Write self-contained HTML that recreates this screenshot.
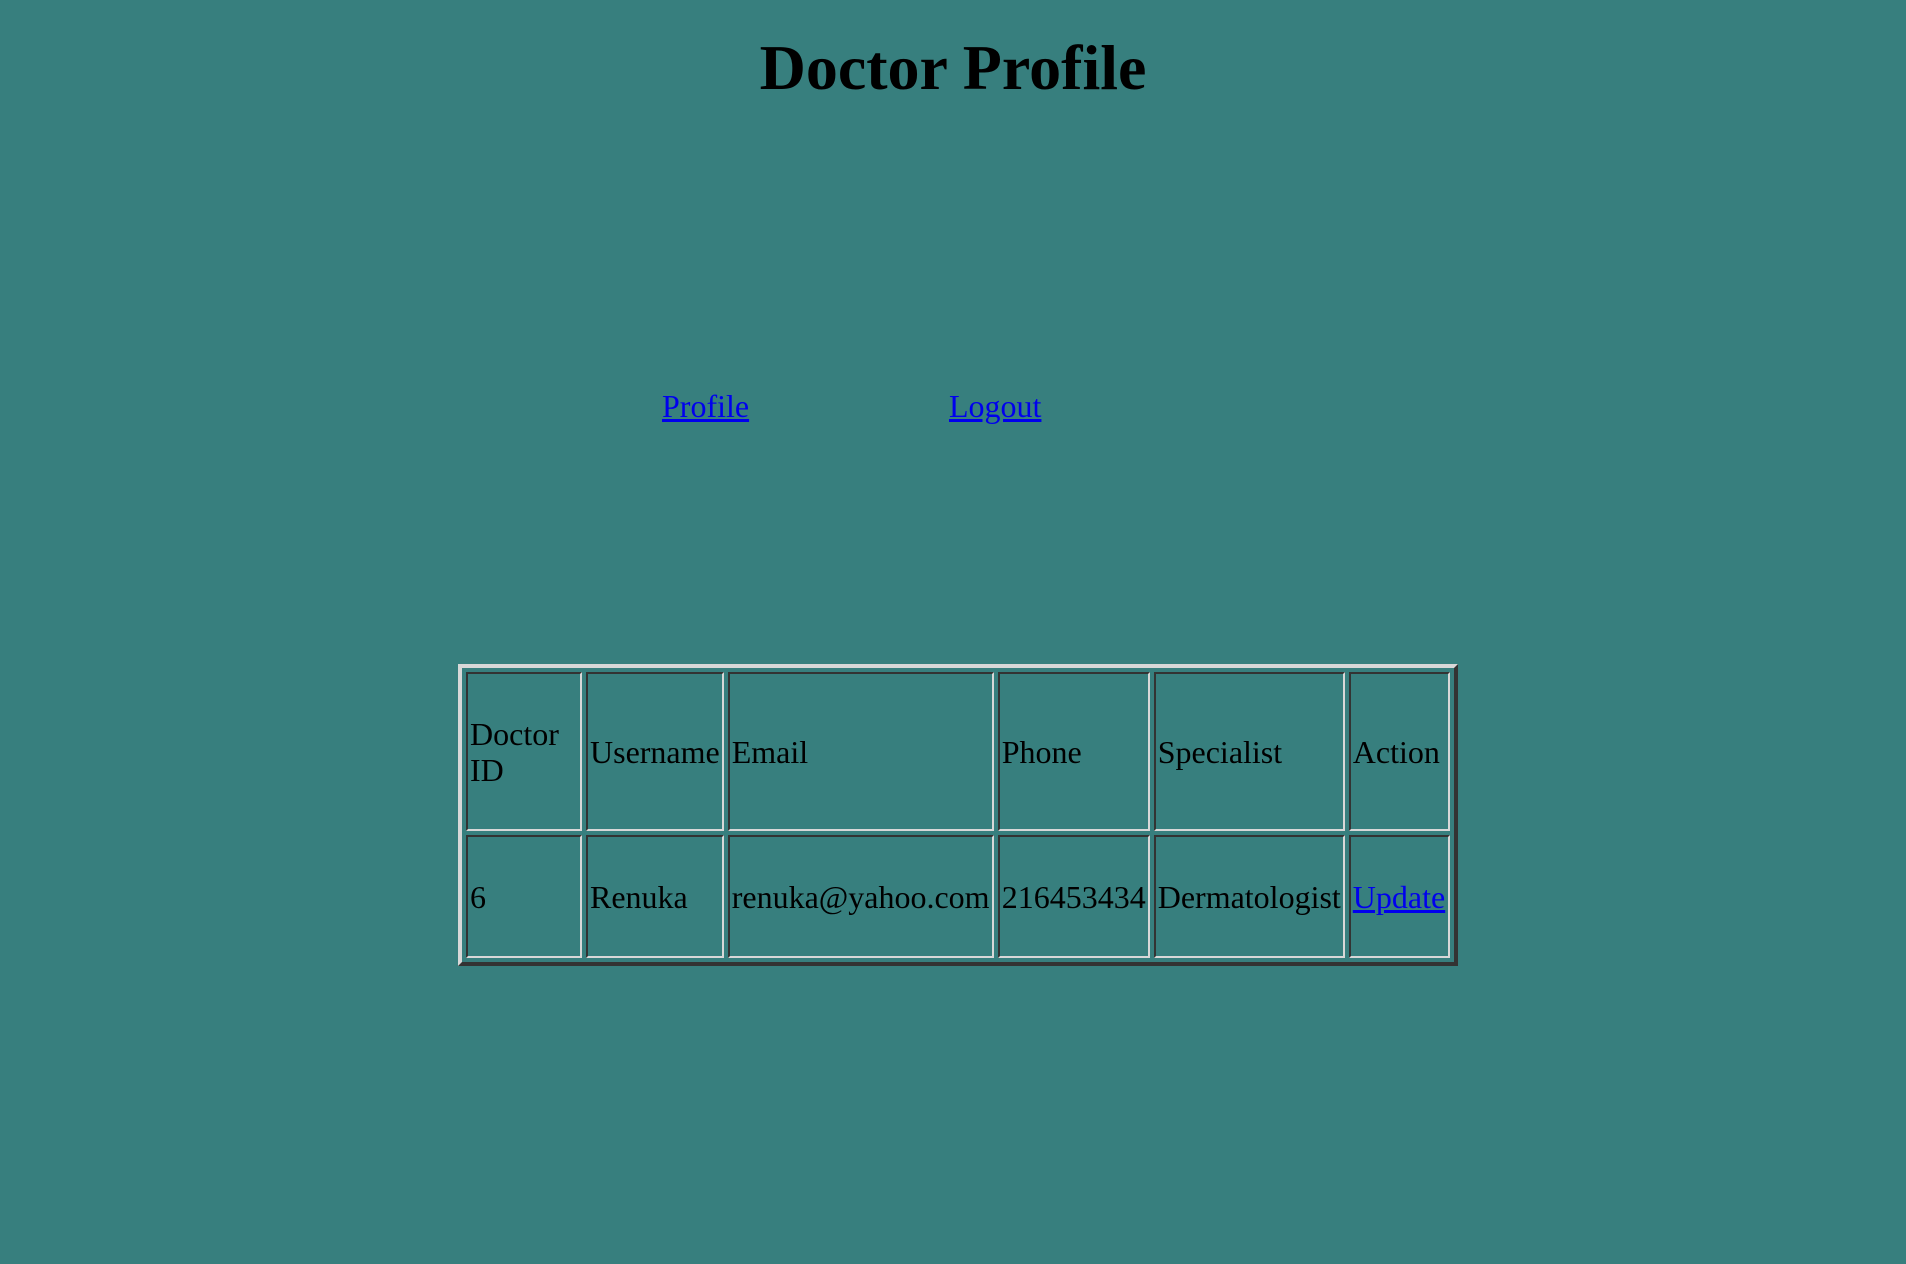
<!DOCTYPE html>
<html><head><meta charset="utf-8"><style>
html,body{margin:0;padding:0;}
body{width:1906px;height:1264px;background:#377f7e;position:relative;font-family:"Liberation Serif",serif;color:#000;overflow:hidden;}
h1{position:absolute;left:0;width:1906px;top:32px;margin:0;text-align:center;font-size:64px;line-height:72px;font-weight:bold;}
a{color:#0000ee;text-decoration:underline;font-size:32px;}
.lnk{position:absolute;top:387px;line-height:38px;}
table{position:absolute;left:458px;top:664px;border-collapse:separate;border-spacing:4px;table-layout:fixed;
 border:4px solid;border-color:#d8d8d8 #333 #333 #d8d8d8;font-size:32px;}
td{border:2px solid;border-color:#333 #d8d8d8 #d8d8d8 #333;padding:0 2px;vertical-align:middle;line-height:36px;box-sizing:border-box;white-space:normal;}
tr.h td{height:159px;}
tr.d td{height:123px;}
</style></head><body>
<h1>Doctor Profile</h1>
<a class="lnk" style="left:662px" href="#">Profile</a>
<a class="lnk" style="left:949px" href="#">Logout</a>
<table>
<colgroup><col style="width:116px"><col style="width:137px"><col style="width:266px"><col style="width:152px"><col style="width:191px"><col style="width:101px"></colgroup>
<tr class="h">
<td>Doctor ID</td>
<td>Username</td>
<td>Email</td>
<td>Phone</td>
<td>Specialist</td>
<td>Action</td>
</tr>
<tr class="d">
<td>6</td>
<td>Renuka</td>
<td>renuka@yahoo.com</td>
<td>216453434</td>
<td>Dermatologist</td>
<td><a href="#">Update</a></td>
</tr>
</table>
</body></html>
